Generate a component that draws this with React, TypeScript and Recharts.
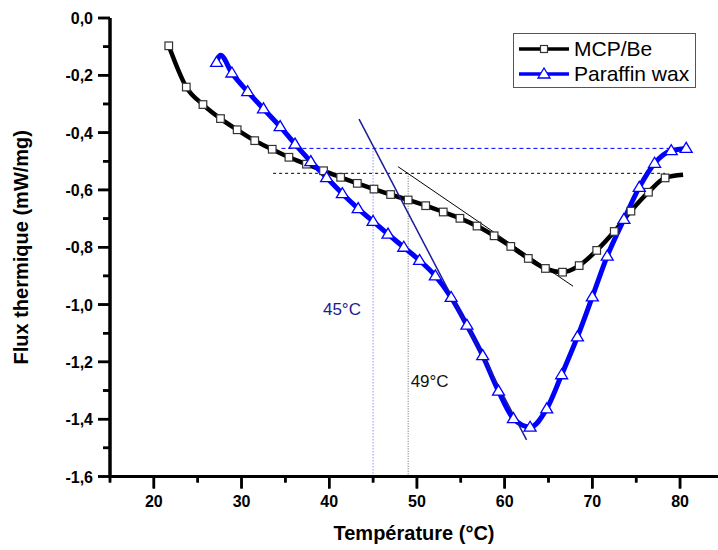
import { LineChart, Line, XAxis, YAxis, ReferenceLine, ReferenceDot, Label } from "recharts";

// MCP/Be curve (black, squares)
const mcpTemp = [21.7, 23.7, 25.6, 27.6, 29.5, 31.5, 33.5, 35.4, 37.4, 39.35, 41.3, 43.2, 45.1, 47.0, 49.0, 51.0, 53.0, 54.9, 56.85, 58.8, 60.7, 62.7, 64.65, 66.6, 68.5, 70.5, 72.5, 74.4, 76.4, 78.3, 80.35];
const mcpFlux = [-0.097, -0.241, -0.302, -0.351, -0.39, -0.428, -0.458, -0.486, -0.51, -0.533, -0.556, -0.577, -0.597, -0.616, -0.635, -0.655, -0.677, -0.699, -0.726, -0.76, -0.797, -0.839, -0.874, -0.887, -0.864, -0.811, -0.745, -0.674, -0.608, -0.558, -0.547];
const mcpNoMarker = [30];

// Paraffin wax curve (blue, triangles)
const parTemp = [27.15, 27.6, 28.9, 30.7, 32.5, 34.4, 36.1, 37.9, 39.7, 41.5, 43.3, 45.0, 46.7, 48.5, 50.3, 52.1, 53.9, 55.7, 57.5, 59.3, 61.0, 62.9, 64.8, 66.5, 68.3, 70.0, 71.7, 73.6, 75.35, 77.1, 79.0, 80.7];
const parFlux = [-0.155, -0.13, -0.192, -0.257, -0.317, -0.379, -0.44, -0.501, -0.557, -0.613, -0.665, -0.71, -0.754, -0.8, -0.846, -0.9, -0.975, -1.072, -1.178, -1.302, -1.398, -1.428, -1.364, -1.245, -1.113, -0.973, -0.831, -0.703, -0.591, -0.507, -0.463, -0.455];
const parNoMarker = [1];

// construction lines (tangents, baselines, onset markers)
const tangentBlue = [{ x: 43.4, y: -0.353 }, { x: 62.5, y: -1.472 }];
const tangentBlack = [{ x: 47.85, y: -0.519 }, { x: 67.8, y: -0.936 }];
const baseBlue = [{ x: 34.55, y: -0.455 }, { x: 80.7, y: -0.455 }];
const baseBlack = [{ x: 33.6, y: -0.542 }, { x: 78.3, y: -0.542 }];
const onsetBlue = [{ x: 45, y: -0.455 }, { x: 45, y: -1.6 }];
const onsetBlack = [{ x: 49, y: -0.542 }, { x: 49, y: -1.6 }];
const onsetLabels = [
  { x: 41.45, y: -1.017, text: "45°C", color: "#1c1c8c" },
  { x: 51.45, y: -1.265, text: "49°C", color: "#111" },
];

const X_DOMAIN = [15, 84.33];
const Y_DOMAIN = [-1.6, 0];
const xTicks = [15, 20, 25, 30, 35, 40, 45, 50, 55, 60, 65, 70, 75, 80];
const yTicks = [0, -0.1, -0.2, -0.3, -0.4, -0.5, -0.6, -0.7, -0.8, -0.9, -1.0, -1.1, -1.2, -1.3, -1.4, -1.5, -1.6];

const W = 718;
const H = 550;
const PLOT = { left: 110, right: 718, top: 18, bottom: 476.5 };

const FONT = "'Liberation Sans', Arial, sans-serif";
const BLUE = "#0000ff";

const mcpData = mcpTemp.map((t, i) => ({ t, v: mcpFlux[i] }));
const parData = parTemp.map((t, i) => ({ t, v: parFlux[i] }));

const isMajorX = (v: number) => v % 10 === 0;
const isMajorY = (v: number) => Math.round(v * 10) % 2 === 0;

// tick mark + bold label, major every 10 °C, minor every 5
function XTick(props: any) {
  const { x, y, payload } = props;
  const major = isMajorX(payload.value);
  return (
    <g>
      <line x1={x} y1={y} x2={x} y2={y + (major ? 12 : 6)} stroke="#000" strokeWidth={2.5} />
      {major && (
        <text x={x} y={y + 30} textAnchor="middle" fontSize={16} fontWeight="bold" fontFamily={FONT} fill="#000">
          {payload.value}
        </text>
      )}
    </g>
  );
}

function YTick(props: any) {
  const { x, y, payload } = props;
  const major = isMajorY(payload.value);
  const label = payload.value.toFixed(1).replace(".", ",").replace("-0,0", "0,0");
  return (
    <g>
      <line x1={x} y1={y} x2={x - (major ? 12 : 7)} y2={y} stroke="#000" strokeWidth={2.5} />
      {major && (
        <text x={x - 17} y={y + 6} textAnchor="end" fontSize={16} fontWeight="bold" fontFamily={FONT} fill="#000">
          {label}
        </text>
      )}
    </g>
  );
}

// Origin-style frame drawn on top as a fallback: thick axis lines with outward ticks
function AxisFrame() {
  const sx = (v: number) => PLOT.left + ((v - X_DOMAIN[0]) / (X_DOMAIN[1] - X_DOMAIN[0])) * (PLOT.right - PLOT.left);
  const sy = (v: number) => PLOT.top + ((Y_DOMAIN[1] - v) / (Y_DOMAIN[1] - Y_DOMAIN[0])) * (PLOT.bottom - PLOT.top);
  return (
    <svg width={W} height={H} style={{ position: "absolute", left: 0, top: 0, zIndex: 5, pointerEvents: "none" }}>
      {xTicks.map((t) => (
        <line key={`xt${t}`} x1={sx(t)} y1={PLOT.bottom} x2={sx(t)} y2={PLOT.bottom + (isMajorX(t) ? 12 : 6)} stroke="#000" strokeWidth={2.5} />
      ))}
      {yTicks.map((v) => (
        <line key={`yt${v}`} x1={PLOT.left} y1={sy(v)} x2={PLOT.left - (isMajorY(v) ? 12 : 7)} y2={sy(v)} stroke="#000" strokeWidth={2.5} />
      ))}
      <line x1={PLOT.left - 1.5} y1={PLOT.bottom} x2={PLOT.right} y2={PLOT.bottom} stroke="#000" strokeWidth={3} />
      <line x1={PLOT.left} y1={PLOT.top} x2={PLOT.left} y2={PLOT.bottom + 1.5} stroke="#000" strokeWidth={3} />
    </svg>
  );
}

function squareDot(props: any) {
  const { cx, cy, index } = props;
  if (mcpNoMarker.includes(index)) return <g key={`s${index}`} />;
  return <rect key={`s${index}`} x={cx - 3.8} y={cy - 3.8} width={7.6} height={7.6} fill="#fff" stroke="#333" strokeWidth={1.2} />;
}

function triangleDot(props: any) {
  const { cx, cy, index } = props;
  if (parNoMarker.includes(index)) return <g key={`t${index}`} />;
  return (
    <polygon
      key={`t${index}`}
      points={`${cx},${cy - 6} ${cx - 6},${cy + 4} ${cx + 6},${cy + 4}`}
      fill="#fff"
      stroke={BLUE}
      strokeWidth={1.3}
    />
  );
}

function LegendBox() {
  const rows = [
    { name: "MCP/Be", color: "#000", marker: "square" },
    { name: "Paraffin wax", color: BLUE, marker: "triangle" },
  ];
  return (
    <div
      style={{
        position: "absolute",
        left: 513,
        top: 33,
        width: 181,
        height: 53,
        border: "1px solid #555",
        background: "#fff",
        fontFamily: FONT,
        zIndex: 6,
      }}
    >
      {rows.map((r, i) => (
        <div key={r.name} style={{ position: "absolute", left: 4, top: 3 + i * 25, height: 24, display: "flex", alignItems: "center" }}>
          <svg width={52} height={20}>
            <line x1={1} y1={10} x2={51} y2={10} stroke={r.color} strokeWidth={3.5} />
            {r.marker === "square" ? (
              <rect x={22.5} y={6.5} width={7} height={7} fill="#fff" stroke="#333" strokeWidth={1.2} />
            ) : (
              <polygon points="26,4 20,14 32,14" fill="#fff" stroke={BLUE} strokeWidth={1.3} />
            )}
          </svg>
          <span style={{ fontSize: 21, marginLeft: 4, color: "#000", lineHeight: "24px" }}>{r.name}</span>
        </div>
      ))}
    </div>
  );
}

export default function App() {
  return (
    <div style={{ position: "absolute", left: 0, top: 0, width: W, height: H, background: "#fff" }}>
      <LineChart width={W} height={H} margin={{ top: PLOT.top, right: 0, bottom: 0, left: 0 }}>
        <XAxis
          type="number"
          dataKey="t"
          domain={X_DOMAIN}
          ticks={xTicks}
          interval={0}
          tick={<XTick />}
          tickLine={false}
          tickSize={0}
          tickMargin={0}
          height={H - PLOT.bottom}
          axisLine={{ stroke: "#000", strokeWidth: 3 }}
        >
          <Label
            value="Température (°C)"
            position="insideBottom"
            offset={10}
            fontSize={20}
            fontWeight="bold"
            fontFamily={FONT}
            fill="#000"
          />
        </XAxis>
        <YAxis
          type="number"
          domain={Y_DOMAIN}
          ticks={yTicks}
          interval={0}
          tick={<YTick />}
          tickLine={false}
          tickSize={0}
          tickMargin={0}
          width={PLOT.left}
          axisLine={{ stroke: "#000", strokeWidth: 3 }}
        >
          <Label
            value="Flux thermique (mW/mg)"
            position="center"
            angle={-90}
            dx={-34}
            fontSize={20}
            fontWeight="bold"
            fontFamily={FONT}
            fill="#000"
          />
        </YAxis>

        <ReferenceLine segment={baseBlue} stroke={BLUE} strokeWidth={1} strokeDasharray="4 3" />
        <ReferenceLine segment={baseBlack} stroke="#000" strokeWidth={1} strokeDasharray="3 3" />
        <ReferenceLine segment={onsetBlue} stroke="#5a5aff" strokeWidth={1} strokeDasharray="1 2" />
        <ReferenceLine segment={onsetBlack} stroke="#666" strokeWidth={1} strokeDasharray="1 1.5" />

        <Line
          data={mcpData}
          dataKey="v"
          type="monotone"
          stroke="#000"
          strokeWidth={4.5}
          dot={squareDot}
          activeDot={false}
          isAnimationActive={false}
        />
        <Line
          data={parData}
          dataKey="v"
          type="monotone"
          stroke={BLUE}
          strokeWidth={5}
          dot={triangleDot}
          activeDot={false}
          isAnimationActive={false}
        />

        <ReferenceLine segment={tangentBlue} stroke="#1c1c99" strokeWidth={1.5} />
        <ReferenceLine segment={tangentBlack} stroke="#000" strokeWidth={1} />

        {onsetLabels.map((l) => (
          <ReferenceDot
            key={l.text}
            x={l.x}
            y={l.y}
            r={0}
            fill="none"
            stroke="none"
            label={{ value: l.text, position: "center", fill: l.color, fontSize: 17, fontFamily: FONT }}
          />
        ))}
      </LineChart>
      <AxisFrame />
      <LegendBox />
    </div>
  );
}
